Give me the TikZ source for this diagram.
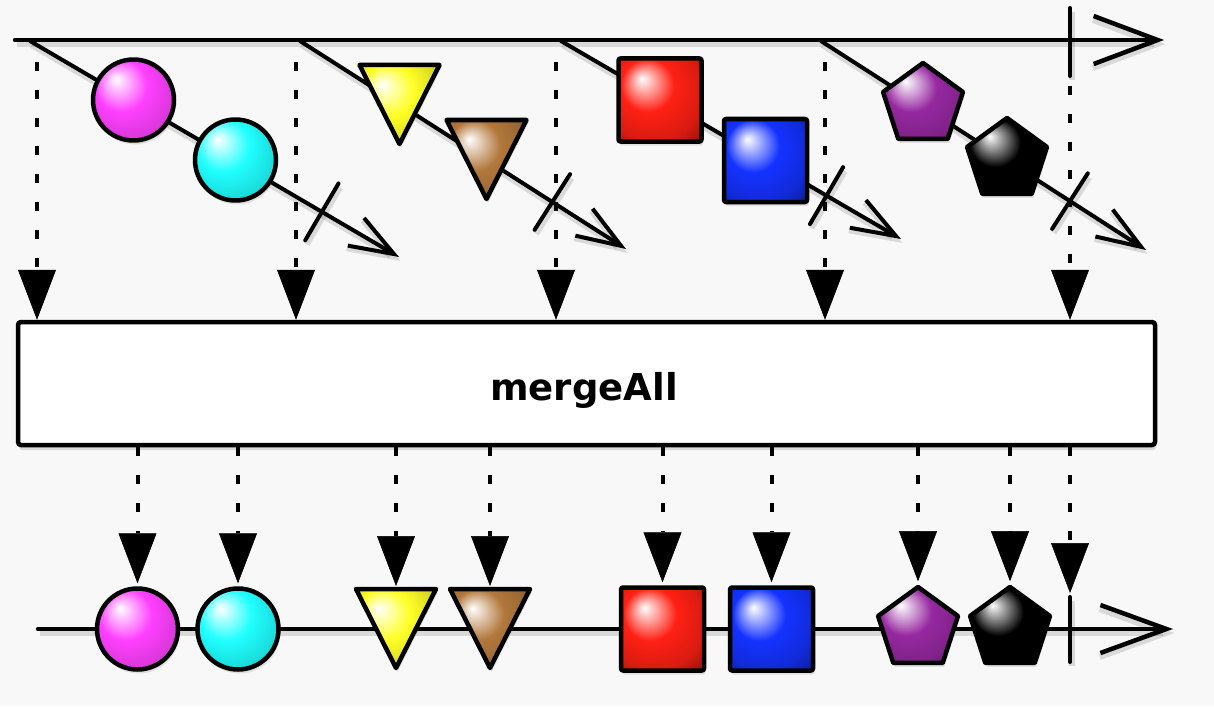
\documentclass[tikz,border=0pt]{standalone}
\usepackage{fontspec}
\newfontfamily\opfont{DejaVu Sans}
\usetikzlibrary{arrows.meta,calc,shapes.geometric,shadows}
\definecolor{bgc}{RGB}{248,248,248}
\definecolor{cmag}{RGB}{255,64,255}
\definecolor{ccyan}{RGB}{32,255,255}
\definecolor{cyel}{RGB}{255,255,40}
\definecolor{cbrown}{RGB}{178,120,60}
\definecolor{cred}{RGB}{255,32,20}
\definecolor{cblue}{RGB}{20,50,255}
\definecolor{cpurp}{RGB}{150,40,160}
\definecolor{cblk}{RGB}{0,0,0}
\colorlet{shc}{black}
\pgfdeclareradialshading[shc]{glossy}{\pgfpoint{-11bp}{13bp}}{color(0bp)=(white); color(4bp)=(shc!25!white); color(16bp)=(shc); color(30bp)=(shc!85!black); color(40bp)=(shc!55!black); color(50bp)=(shc!45!black)}
\tikzset{
  lshadow/.style={preaction={draw=black, opacity=0.12, line width=6pt, transform canvas={shift={(1.5pt,-4pt)}}}},
  shp/.style={/utils/exec={\colorlet{shc}{#1}}, shading=glossy, draw=black, line width=4.5pt, line join=round, inner sep=0pt, drop shadow={opacity=0.2, shadow xshift=1.5pt, shadow yshift=-4pt}},
  orb/.style={shp=#1, circle, minimum size=81pt},
  sq/.style={shp=#1, rectangle, rounded corners=2pt, minimum size=83pt},
  pent/.style={shp=#1, regular polygon, regular polygon sides=5, minimum size=84pt},
  tri/.style={shp=#1},
  mainline/.style={lshadow, line width=4.5pt, line cap=round, -{Straight Barb[length=64pt,width=48pt]}},
  diag/.style={lshadow, line width=4pt, line cap=round, -{Straight Barb[length=44pt,width=32pt]}},
  tickmark/.style={lshadow, line width=4pt, line cap=round},
  dotarrow/.style={line width=4pt, dash pattern=on 9pt off 19pt, -{Triangle[width=38pt,length=50pt,line width=0.5pt]}},
  opbox/.style={draw=black, fill=white, line width=4.5pt, rounded corners=3pt, minimum width=1137pt, minimum height=123pt, inner sep=0pt, drop shadow={opacity=0.25, shadow xshift=1pt, shadow yshift=-5pt}},
  oplabel/.style={font=\opfont\bfseries\fontsize{37}{40}\selectfont, inner sep=0pt}
}
\begin{document}
\begin{tikzpicture}[x=1pt,y=-1pt]
\fill[bgc] (0,0) rectangle (1214,706);
\useasboundingbox (0,0) rectangle (1214,706);

% operator box
\node[opbox] (op) at (586.5,383.5) {};
\node[oplabel, anchor=base] (lbl) at (584,400) {mergeAll};

% top dotted arrows
\coordinate (d1) at (37,62);
\coordinate (d2) at (296,62);
\coordinate (d3) at (556,62);
\coordinate (d4) at (825,62);
\coordinate (d5) at (1070,86);
\foreach \d in {d1,d2,d3,d4,d5} \draw[dotarrow] (\d) -- (\d |- op.north);

% top timeline
\coordinate (ts) at (15,40);
\coordinate (te) at (1164,40);
\draw[mainline] (ts) -- (te);
\coordinate (tk1) at (1070,8);
\coordinate (tk2) at (1070,76);
\draw[tickmark] (tk1) -- (tk2);

% inner observables
\coordinate (g1s) at (30,41);  \coordinate (g1e) at (399,257);
\coordinate (g2s) at (300,41); \coordinate (g2e) at (626,249);
\coordinate (g3s) at (561,41); \coordinate (g3e) at (901,239);
\coordinate (g4s) at (821,41); \coordinate (g4e) at (1146,250);
\draw[diag] (g1s) -- (g1e);
\draw[diag] (g2s) -- (g2e);
\draw[diag] (g3s) -- (g3e);
\draw[diag] (g4s) -- (g4e);
\coordinate (x1) at ($(g1s)!0.791!(g1e)$);
\coordinate (x2) at ($(g2s)!0.774!(g2e)$);
\coordinate (x3) at ($(g3s)!0.781!(g3e)$);
\coordinate (x4) at ($(g4s)!0.766!(g4e)$);
\draw[tickmark] ($(x1)!33pt!90:(g1e)$) -- ($(x1)!33pt!-90:(g1e)$);
\draw[tickmark] ($(x2)!33pt!90:(g2e)$) -- ($(x2)!33pt!-90:(g2e)$);
\draw[tickmark] ($(x3)!33pt!90:(g3e)$) -- ($(x3)!33pt!-90:(g3e)$);
\draw[tickmark] ($(x4)!33pt!90:(g4e)$) -- ($(x4)!33pt!-90:(g4e)$);

% top shapes
\node[orb=cmag] (t1) at (133.5,100) {};
\node[orb=ccyan] (t2) at (235.5,160) {};
\coordinate (t3) at (399.5,65);
\path[tri=cyel] ($(t3)+(-40,0)$) -- ($(t3)+(40,0)$) -- ($(t3)+(0,79)$) -- cycle;
\coordinate (t4) at (486.5,120);
\path[tri=cbrown] ($(t4)+(-40,0)$) -- ($(t4)+(40,0)$) -- ($(t4)+(0,79)$) -- cycle;
\node[sq=cred] (t5) at (660,100) {};
\node[sq=cblue] (t6) at (765.5,160.5) {};
\node[pent=cpurp] (t7) at (923,105) {};
\node[pent=cblk] (t8) at (1007,160) {};

% bottom timeline
\coordinate (bs) at (38,629);
\coordinate (be) at (1173,629);
\draw[mainline, -{Straight Barb[length=66pt,width=48pt]}] (bs) -- (be);
\coordinate (bt1) at (1070,597);
\coordinate (bt2) at (1070,662);
\draw[tickmark] (bt1) -- (bt2);

% bottom shapes
\node[orb=cmag] (b1) at (137.5,629) {};
\node[orb=ccyan] (b2) at (238,629) {};
\coordinate (b3) at (396,589);
\path[tri=cyel] ($(b3)+(-40,0)$) -- ($(b3)+(40,0)$) -- ($(b3)+(0,79)$) -- cycle;
\coordinate (b4) at (490,589);
\path[tri=cbrown] ($(b4)+(-40,0)$) -- ($(b4)+(40,0)$) -- ($(b4)+(0,79)$) -- cycle;
\node[sq=cred] (b5) at (662.5,629) {};
\node[sq=cblue] (b6) at (771.5,629) {};
\node[pent=cpurp] (b7) at (918,629) {};
\node[pent=cblk] (b8) at (1010,629) {};

% bottom dotted arrows
\foreach \n in {b1,b2,b5,b6,b7,b8} \draw[dotarrow, shorten >=3pt] (\n |- op.south) -- (\n.north);
\foreach \n in {b3,b4} \draw[dotarrow, shorten >=3pt] (\n |- op.south) -- (\n);
\draw[dotarrow, shorten >=4pt] (bt1 |- op.south) -- (bt1);
\end{tikzpicture}
\end{document}
